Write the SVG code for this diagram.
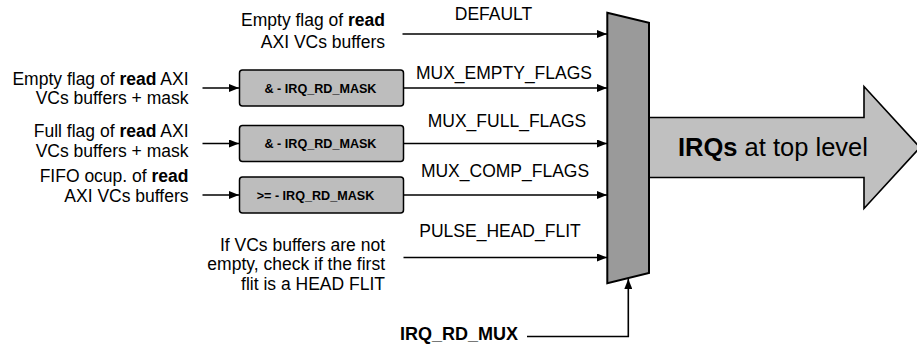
<svg xmlns="http://www.w3.org/2000/svg" width="917" height="347" viewBox="0 0 917 347">
  <style>
    text { font-family: "Liberation Sans", Arial, sans-serif; fill: #000; }
    .lbl { font-size: 17.5px; }
    .rt { font-size: 17.5px; text-anchor: end; }
    .b { font-weight: bold; }
    .box { fill: #bdbdbd; stroke: #000; stroke-width: 1.5; }
    .boxt { font-size: 12.6px; font-weight: bold; text-anchor: middle; }
    .wire { fill: none; stroke: #000; stroke-width: 1.6; }
  </style>
  <defs>
    <marker id="ah" viewBox="0 0 10 8" refX="10" refY="4" markerWidth="10" markerHeight="8" markerUnits="userSpaceOnUse" orient="auto">
      <path d="M0,0 L10,4 L0,8 Z" fill="#000"/>
    </marker>
  </defs>

  <!-- output bus arrow -->
  <g id="irq-out">
    <path d="M649,117.5 L864,117.5 L864,86.5 L920,147.5 L864,208.5 L864,177.5 L649,177.5 Z" fill="#c0c0c0" stroke="#000" stroke-width="1.6"/>
    <text x="678" y="156" style="font-size:25.5px"><tspan class="b">IRQs</tspan> at top level</text>
  </g>

  <!-- multiplexer -->
  <g id="mux">
    <path d="M607.3,12.7 L649,22.7 L649,273 L607.3,283.3 Z" fill="#9a9a9a" stroke="#000" stroke-width="2"/>
  </g>

  <!-- mask blocks -->
  <g id="mask-empty">
    <rect class="box" x="239.5" y="70" width="164" height="36" rx="3"/>
    <text class="boxt" x="320.5" y="92.5">&amp; - IRQ_RD_MASK</text>
  </g>
  <g id="mask-full">
    <rect class="box" x="239.5" y="125.5" width="164" height="36" rx="3"/>
    <text class="boxt" x="320.5" y="148">&amp; - IRQ_RD_MASK</text>
  </g>
  <g id="mask-comp">
    <rect class="box" x="239.5" y="177" width="164" height="36" rx="3"/>
    <text class="boxt" x="315.5" y="199.5">&gt;= - IRQ_RD_MASK</text>
  </g>

  <!-- input descriptions -->
  <g id="in-default">
    <text class="rt" x="385" y="25.5">Empty flag of <tspan class="b">read</tspan></text>
    <text class="rt" x="385" y="47.5">AXI VCs buffers</text>
  </g>
  <g id="in-empty">
    <text class="rt" x="188.5" y="85">Empty flag of <tspan class="b">read</tspan> AXI</text>
    <text class="rt" x="188.5" y="103.5">VCs buffers + mask</text>
  </g>
  <g id="in-full">
    <text class="rt" x="188.5" y="137">Full flag of <tspan class="b">read</tspan> AXI</text>
    <text class="rt" x="188.5" y="156.5">VCs buffers + mask</text>
  </g>
  <g id="in-comp">
    <text class="rt" x="188.5" y="182">FIFO ocup. of <tspan class="b">read</tspan></text>
    <text class="rt" x="188.5" y="201.5">AXI VCs buffers</text>
  </g>
  <g id="in-head">
    <text class="rt" x="385" y="250.5">If VCs buffers are not</text>
    <text class="rt" x="385" y="270">empty, check if the first</text>
    <text class="rt" x="385" y="289.5">flit is a HEAD FLIT</text>
  </g>
  <g id="sel">
    <text class="b" x="400" y="340" style="font-size:18px">IRQ_RD_MUX</text>
  </g>

  <!-- connectors -->
  <g id="connectors">
    <path class="wire" d="M402.5,34 H607" marker-end="url(#ah)"/>
    <path class="wire" d="M403.5,88 H607" marker-end="url(#ah)"/>
    <path class="wire" d="M403.5,143.5 H607" marker-end="url(#ah)"/>
    <path class="wire" d="M403.5,195 H607" marker-end="url(#ah)"/>
    <path class="wire" d="M403.5,257.5 H607" marker-end="url(#ah)"/>
    <path class="wire" d="M202.5,88 H239" marker-end="url(#ah)"/>
    <path class="wire" d="M202.5,143.5 H239" marker-end="url(#ah)"/>
    <path class="wire" d="M202.5,195 H239" marker-end="url(#ah)"/>
    <path class="wire" d="M527,336.5 H628.3 V279" marker-end="url(#ah)"/>
    <text class="lbl" x="493.5" y="19.5" text-anchor="middle">DEFAULT</text>
    <text class="lbl" x="504" y="79" text-anchor="middle">MUX_EMPTY_FLAGS</text>
    <text class="lbl" x="507" y="126.5" text-anchor="middle">MUX_FULL_FLAGS</text>
    <text class="lbl" x="505" y="176.5" text-anchor="middle">MUX_COMP_FLAGS</text>
    <text class="lbl" x="500" y="236.5" text-anchor="middle">PULSE_HEAD_FLIT</text>
  </g>
</svg>
